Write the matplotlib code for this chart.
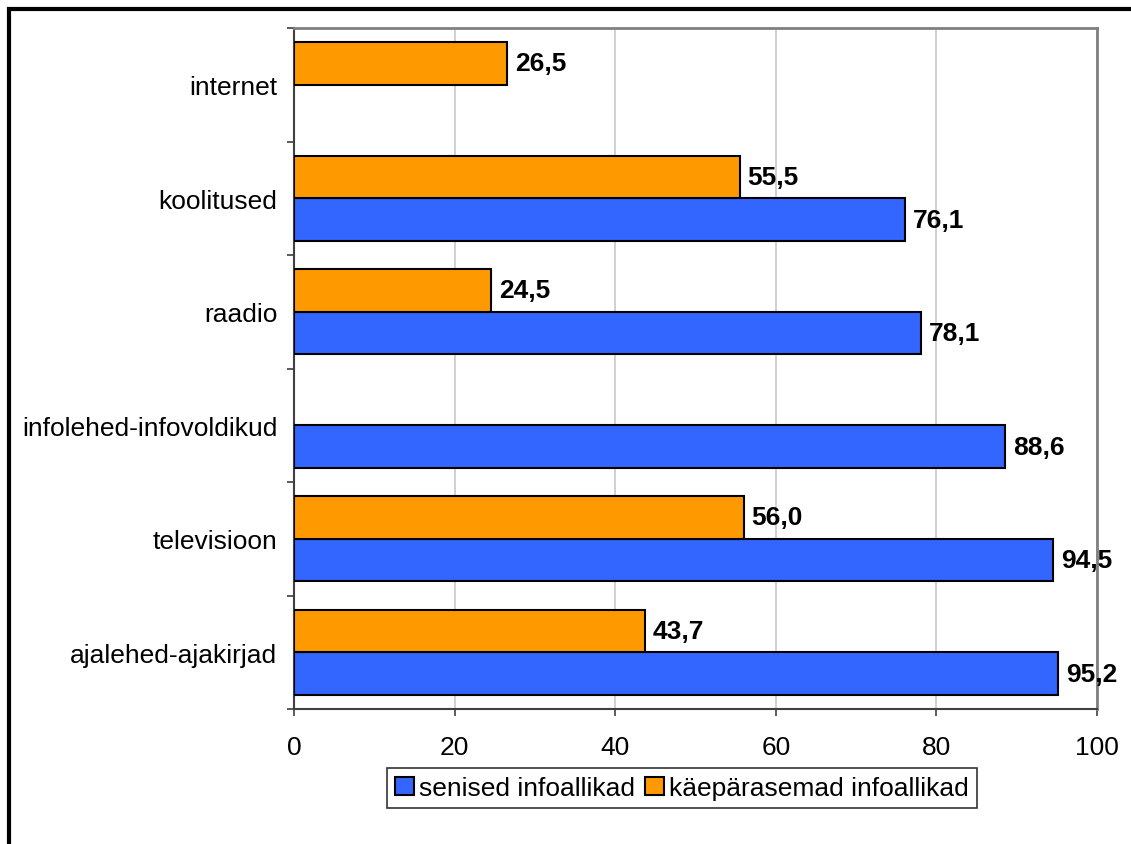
import matplotlib.pyplot as plt
import matplotlib.patches as mpatches
import numpy as np

plt.rcParams['font.family'] = ['Liberation Sans', 'DejaVu Sans']

categories = ['ajalehed-ajakirjad', 'televisioon', 'infolehed-infovoldikud',
              'raadio', 'koolitused', 'internet']
senised = [95.2, 94.5, 88.6, 78.1, 76.1, None]
kaeparasemad = [43.7, 56.0, None, 24.5, 55.5, 26.5]
series_names = ['senised infoallikad', 'käepärasemad infoallikad']

blue = '#3366FF'
orange = '#FF9900'
fs = 19

fig = plt.figure(figsize=(11.31, 8.45), dpi=100)
ax = fig.add_axes([294 / 1131, 1 - 710 / 845, 803 / 1131, 681 / 845])

pos = np.arange(len(categories))
h = 0.375

def fmt(v):
    return f'{v:.1f}'.replace('.', ',')

for i, (b, o) in enumerate(zip(senised, kaeparasemad)):
    if b is not None:
        ax.barh(pos[i] - h / 2, b, height=h, color=blue, edgecolor='black',
                linewidth=1.5, zorder=3)
        ax.text(b + 1.0, pos[i] - h / 2, fmt(b), va='center', ha='left',
                fontsize=fs, fontweight='bold', zorder=4)
    if o is not None:
        ax.barh(pos[i] + h / 2, o, height=h, color=orange, edgecolor='black',
                linewidth=1.5, zorder=3)
        ax.text(o + 1.0, pos[i] + h / 2, fmt(o), va='center', ha='left',
                fontsize=fs, fontweight='bold', zorder=4)

ax.set_xlim(0, 100)
ax.set_ylim(-0.5, len(categories) - 0.5)
ax.set_xticks(np.arange(0, 101, 20))
ax.tick_params(axis='x', labelsize=fs, length=5, width=1.2, pad=14,
               color='#404040', direction='out')

# category boundaries carry the ticks, names sit between them
ax.set_yticks(np.arange(-0.5, len(categories), 1.0))
ax.set_yticklabels([])
ax.tick_params(axis='y', which='major', length=5, width=1.2, color='#404040')
ax.set_yticks(pos, minor=True)
ax.set_yticklabels(categories, minor=True)
ax.tick_params(axis='y', which='minor', length=0, labelsize=fs, pad=12)

ax.grid(axis='x', color='#C8C8C8', linewidth=1.2, zorder=0)
for side in ['top', 'right']:
    ax.spines[side].set_color('#808080')
    ax.spines[side].set_linewidth(2)
for side in ['left', 'bottom']:
    ax.spines[side].set_color('#404040')
    ax.spines[side].set_linewidth(1.5)

handles = [mpatches.Patch(facecolor=blue, edgecolor='black', linewidth=1.5),
           mpatches.Patch(facecolor=orange, edgecolor='black', linewidth=1.5)]
leg = fig.legend(handles, series_names, loc='center',
                 bbox_to_anchor=(682 / 1131, 1 - 789 / 845), ncol=2,
                 fontsize=fs, frameon=True, fancybox=False, edgecolor='black',
                 handlelength=0.7, handleheight=0.7, handletextpad=0.2,
                 columnspacing=0.4, borderpad=0.3, borderaxespad=0)
leg.get_frame().set_linewidth(1.2)

# outer frame, open on the right and bottom
fig.patches.append(mpatches.Rectangle((9 / 1131, -0.05), 1.1, 1 - 9.5 / 845 + 0.05,
                                      transform=fig.transFigure, fill=False,
                                      edgecolor='black', linewidth=3))

fig.savefig('out.png', dpi=100)
